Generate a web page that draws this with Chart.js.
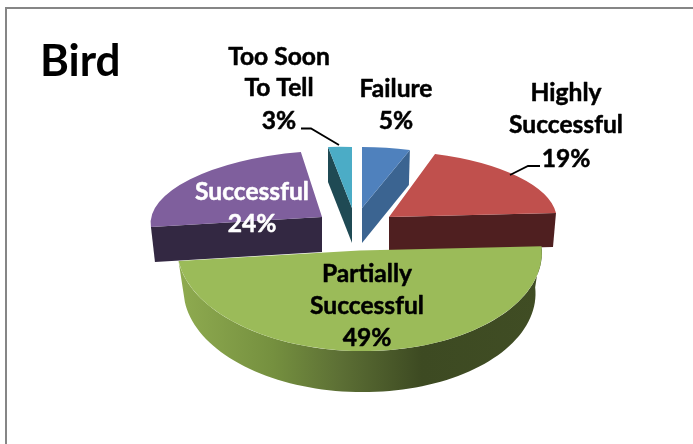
<!DOCTYPE html>
<html><head><meta charset="utf-8">
<style>html,body{margin:0;padding:0;background:#fff}canvas{display:block}</style>
<script src="https://cdn.jsdelivr.net/npm/chart.js@4"></script>
</head><body><canvas id="c" width="693" height="444"></canvas>
<script>
const titleText = 'Bird';
const categories = ['Failure', 'Highly Successful', 'Partially Successful', 'Successful', 'Too Soon To Tell'];
const values = [5, 19, 49, 24, 3];
const colors = ['#4f81bd', '#c0504d', '#9bbb59', '#7f5f9d', '#4bacc6'];
const labelLines = [['Failure'], ['Highly', 'Successful'], ['Partially', 'Successful'], ['Successful'], ['Too Soon', 'To Tell']];
const labelColors = ['#000', '#000', '#000', '#fff', '#000'];
// 3D look of each slice: [a,b,c,d,e,f] projection of the unit pie, wall type, wall colour
const views = [
  {m:[155,0,0,61,362,208], depth:35, dx:-1, wall:'end', wc:'#3b6491'},
  {m:[167.7,0.2,6.1,66.3,389,217], depth:34, dx:-3, wall:'end', wc:'#4f1f20'},
  {m:[182.4,2,0,100.6,359.5,250.5], depth:41, shrink:0.965, wall:'arc', wc:null},
  {m:[171,-1.7,-11.1,66.5,322,217], depth:35, dx:4, wall:'start', wc:'#332842'},
  {m:[128,6,0,61,352,208], depth:35, dx:0, wall:'start', wc:'#1f4a54'}
];
const drawOrder = [4, 0, 3, 1, 2];
const labelPos = [[396,[89,121]],[566,[93,125,159]],[367,[274,306,338]],[252,[192,224]],[279,[57,88,121]]];
const leaders = [[[301,128.5],[311,128.5],[339,145]],[[510,175],[528,166],[540,166]]];
const font = 'Lato, Carlito, "Open Sans", sans-serif';

function proj(v, ang){const [a,b,c,d,e,f]=v.m,co=Math.cos(ang),si=Math.sin(ang);return [e+a*co+c*si,f+b*co+d*si];}

const pie3d = {
  id:'pie3d',
  beforeDatasetsDraw(chart){
    const ctx=chart.ctx, arcs=chart.getDatasetMeta(0).data;
    drawOrder.forEach(i=>{
      const arc=arcs[i], v=views[i], D=v.depth;
      const p=arc.getProps(['x','y','startAngle','endAngle','outerRadius'],true);
      ctx.save();
      if(v.wall==='arc'){
        const n=80, top=[];
        for(let k=0;k<=n;k++) top.push(proj(v,p.startAngle+(p.endAngle-p.startAngle)*k/n));
        const g=ctx.createLinearGradient(top[n][0],0,top[0][0],0);
        g.addColorStop(0,'#8fab50');g.addColorStop(0.26,'#75903f');g.addColorStop(0.44,'#5d7035');
        g.addColorStop(0.67,'#3d4a22');g.addColorStop(1,'#404d24');
        ctx.beginPath();top.forEach((q,k)=>k?ctx.lineTo(q[0],q[1]):ctx.moveTo(q[0],q[1]));
        for(let k=n;k>=0;k--)ctx.lineTo(v.m[4]+(top[k][0]-v.m[4])*v.shrink,top[k][1]+D);
        ctx.closePath();ctx.fillStyle=g;ctx.fill();
      } else {
        const q=proj(v,v.wall==='end'?p.endAngle:p.startAngle), t=[v.m[4],v.m[5]];
        ctx.beginPath();ctx.moveTo(t[0],t[1]);ctx.lineTo(q[0],q[1]);
        ctx.lineTo(q[0]+v.dx,q[1]+D);ctx.lineTo(t[0],t[1]+D);ctx.closePath();
        ctx.fillStyle=v.wc;ctx.fill();
      }
      const [a,b,c,d,e,f]=v.m,R=p.outerRadius;
      ctx.transform(a/R,b/R,c/R,d/R,e,f);ctx.translate(-p.x,-p.y);
      arc.draw(ctx);
      ctx.restore();
    });
    return false;
  },
  afterDraw(chart){
    const ctx=chart.ctx;
    ctx.save();
    ctx.strokeStyle='#868686';ctx.lineWidth=2;
    ctx.beginPath();ctx.moveTo(6,444);ctx.lineTo(6,8);ctx.lineTo(693,8);ctx.stroke();
    ctx.strokeStyle='#000';ctx.lineWidth=1.8;
    leaders.forEach(l=>{ctx.beginPath();l.forEach((q,k)=>k?ctx.lineTo(q[0],q[1]):ctx.moveTo(q[0],q[1]));ctx.stroke();});
    ctx.font='bold 24.6px '+font;ctx.textAlign='center';ctx.textBaseline='middle';ctx.lineWidth=0.5;ctx.lineJoin='round';
    categories.forEach((cat,i)=>{
      const lines=[...labelLines[i],values[i]+'%'];
      ctx.fillStyle=labelColors[i];ctx.strokeStyle=labelColors[i];
      lines.forEach((s,k)=>{ctx.fillText(s,labelPos[i][0],labelPos[i][1][k]);ctx.strokeText(s,labelPos[i][0],labelPos[i][1][k]);});
    });
    ctx.restore();
  }
};

new Chart(document.getElementById('c'),{
  type:'pie',
  data:{labels:categories,datasets:[{data:values,backgroundColor:colors,borderWidth:0}]},
  options:{
    responsive:false,animation:false,
    layout:{padding:{left:40,top:35,right:20,bottom:20}},
    plugins:{
      legend:{display:false},tooltip:{enabled:false},
      title:{display:true,text:titleText,align:'start',color:'#000',padding:0,font:{family:font,size:44,weight:'bold'}}
    }
  },
  plugins:[pie3d]
});
</script></body></html>
